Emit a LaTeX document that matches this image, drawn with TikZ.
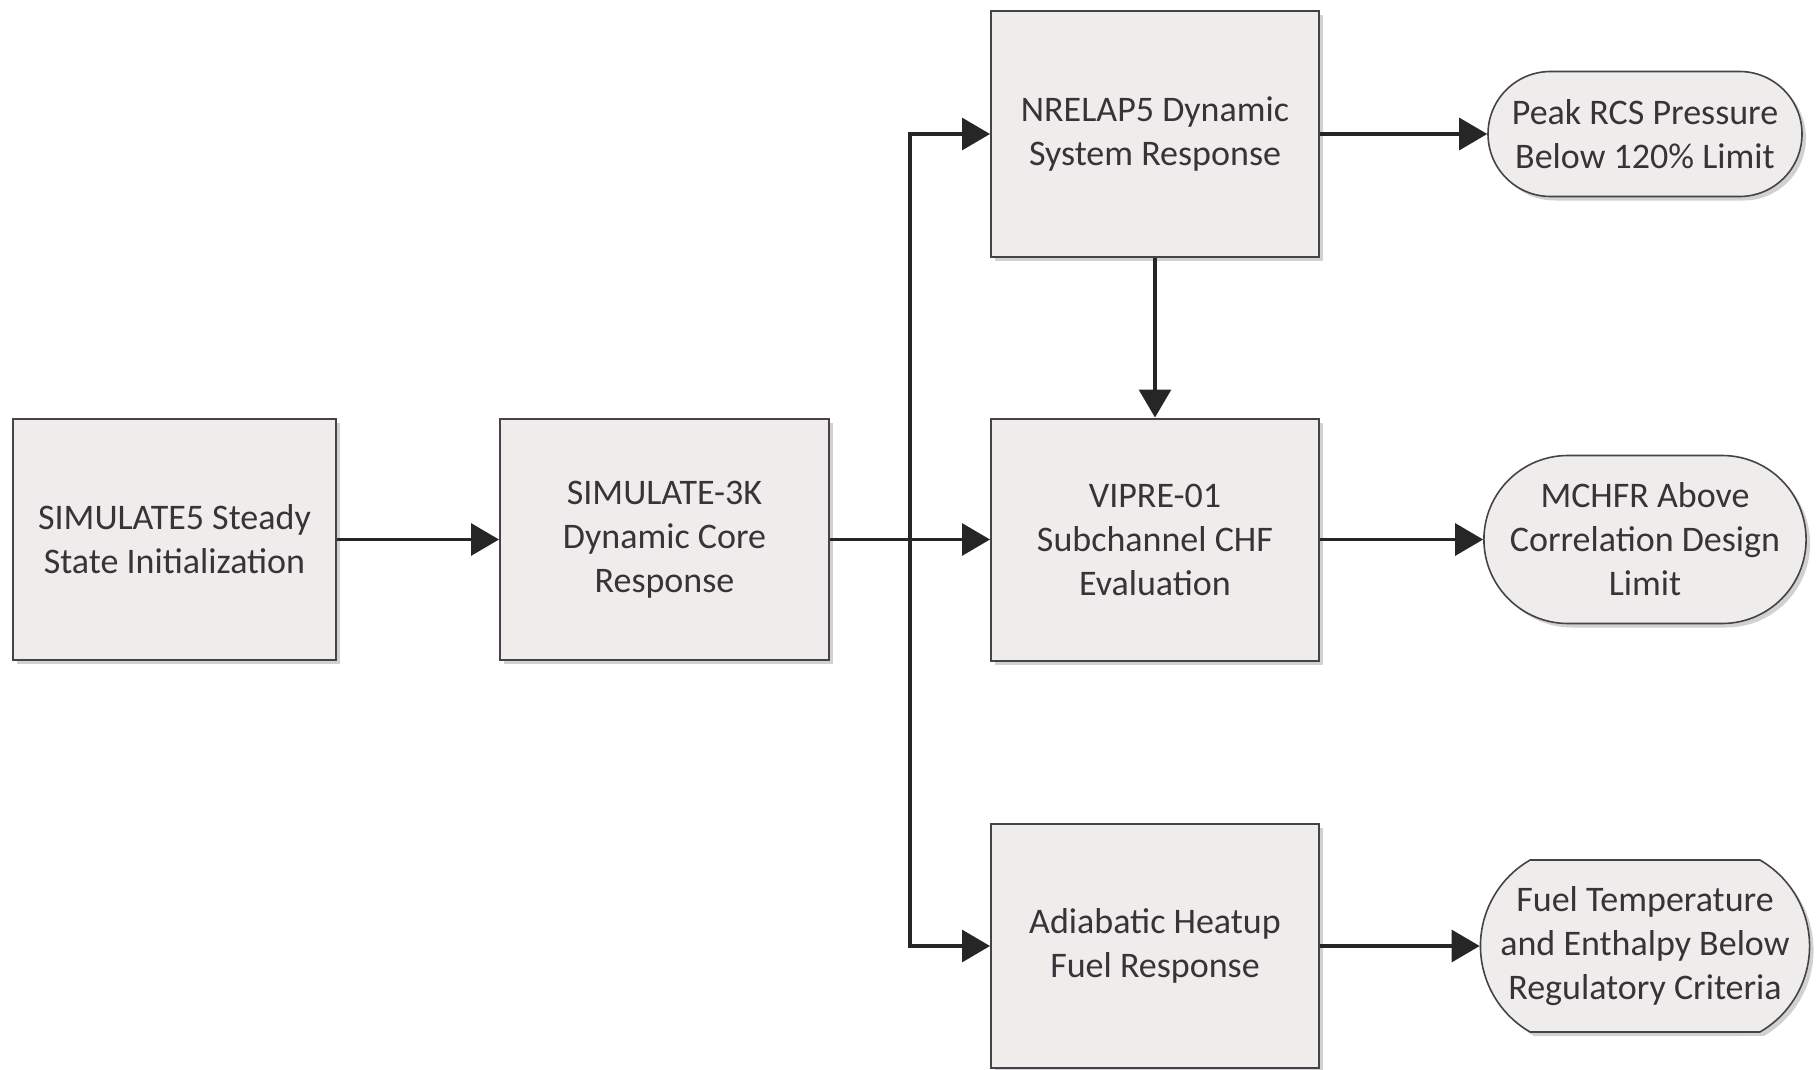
\documentclass[tikz,border=0pt]{standalone}
\usepackage{fontspec}
\setmainfont{Carlito}
\usetikzlibrary{arrows.meta,shapes.misc,shadows}
\definecolor{boxfill}{HTML}{EFEDEB}
\definecolor{boxline}{HTML}{45424A}
\definecolor{txtgray}{HTML}{363438}
\begin{document}
\begin{tikzpicture}[x=0.5pt, y=-0.5pt, >={Triangle[length=14pt,width=16pt]},
    box/.style={rectangle, draw=boxline, line width=1pt, fill=boxfill,
        text=txtgray, align=center, font=\fontsize{18}{22}\selectfont,
        drop shadow={shadow xshift=2pt, shadow yshift=-2pt, fill=black!30, opacity=0.6}},
    goal/.style={rounded rectangle, draw=boxline, line width=0.8pt, fill=boxfill,
        text=txtgray, align=center, font=\fontsize{18}{22}\selectfont,
        minimum width=161pt, inner xsep=2pt,
        drop shadow={shadow xshift=2pt, shadow yshift=-2pt, fill=black!30, opacity=0.6}},
    flow/.style={->, line width=1.6pt, draw=black!85}]
        \useasboundingbox (0,0) rectangle (1816,1070);

        % Code boxes
        \node[box, minimum width=161.5pt, minimum height=120.5pt] (steady) at (174.5,539.5)
            {SIMULATE5 Steady\\State Initialization};
        \node[box, minimum width=164.5pt, minimum height=120.5pt] (core) at (664.5,539.5)
            {SIMULATE-3K\\Dynamic Core\\Response};
        \node[box, minimum width=164pt, minimum height=122.5pt] (relap) at (1155,134)
            {NRELAP5 Dynamic\\System Response};
        \node[box, minimum width=164pt, minimum height=121pt] (vipre) at (1155,539.5)
            {VIPRE-01\\Subchannel CHF\\Evaluation};
        \node[box, minimum width=164pt, minimum height=122pt] (heatup) at (1155,946)
            {Adiabatic Heatup\\Fuel Response};

        % Acceptance criteria
        \node[goal, minimum height=62.5pt] (pressure) at (1645,134)
            {Peak RCS Pressure\\Below 120\% Limit};
        \node[goal, minimum height=84pt] (mchfr) at (1645,539.5)
            {MCHFR Above\\Correlation Design\\Limit};
        \node[goal, minimum height=86pt, inner xsep=0pt, rounded rectangle arc length=120] (fuel) at (1645,946)
            {Fuel Temperature\\and Enthalpy Below\\Regulatory Criteria};

        % Branch point
        \coordinate (split) at (910,539.5);

        % Connectors
        \draw[flow] (steady.east) -- (core.west);
        \draw[flow] (core.east) -- (vipre.west);
        \draw[flow] (split) |- (relap.west);
        \draw[flow] (split) |- (heatup.west);
        \draw[flow] (relap.south) -- (vipre.north);
        \draw[flow] (relap.east) -- (pressure.west);
        \draw[flow] (vipre.east) -- (mchfr.west);
        \draw[flow] (heatup.east) -- (fuel.west);
    \end{tikzpicture}
\end{document}
